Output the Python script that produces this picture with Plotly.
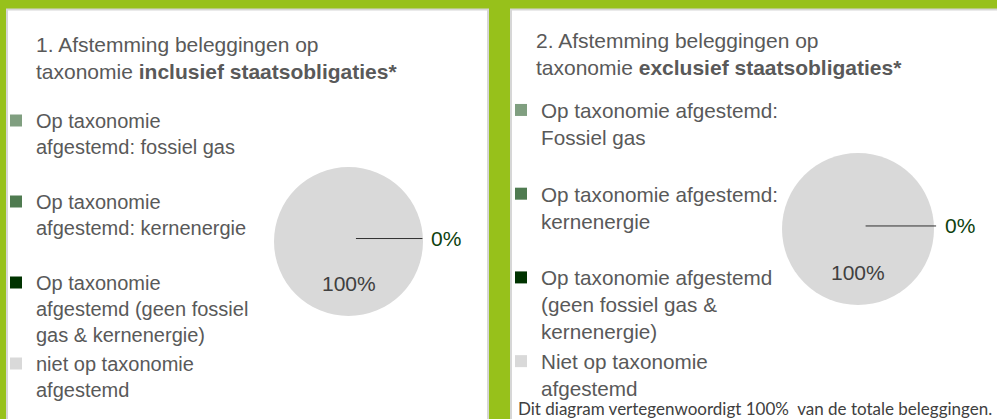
import plotly.graph_objects as go

W, H = 997, 419

# ---- data ----
labels_incl = [
    "Op taxonomie<br>afgestemd: fossiel gas<br> ",
    "Op taxonomie<br>afgestemd: kernenergie<br> ",
    "Op taxonomie<br>afgestemd (geen fossiel<br>gas &amp; kernenergie)",
    "niet op taxonomie<br>afgestemd",
]
labels_excl = [
    "Op taxonomie afgestemd:<br>Fossiel gas<br> ",
    "Op taxonomie afgestemd:<br>kernenergie<br> ",
    "Op taxonomie afgestemd<br>(geen fossiel gas &amp;<br>kernenergie)",
    "Niet op taxonomie<br>afgestemd",
]
values_incl = [0, 0, 0, 100]
values_excl = [0, 0, 0, 100]
slice_colors = ["#809F80", "#4F7B50", "#003300", "#D9D9D9"]
title_incl = "1. Afstemming beleggingen op<br>taxonomie <b>inclusief staatsobligaties*</b>"
title_excl = "2. Afstemming beleggingen op<br>taxonomie <b>exclusief staatsobligaties*</b>"
footer = "Dit diagram vertegenwoordigt 100%\u00a0 van de totale beleggingen."
small_label_index = 2  # category whose 0% label is drawn outside

GREEN = "#97C11B"
BORDER = "#D6D6D6"
TEXT = "#595959"
FONT = "Liberation Sans, Arial, sans-serif"


def px(x):
    return x / W


def py(y):
    return 1 - y / H


panels = [
    dict(labels=labels_incl, values=values_incl, title=title_incl,
         cx=348.5, cy=241.5, r=74.5, legend="legend",
         lx=-4, ly=101, lfont=20, tx=34, ty=57.5, ax=90,
         box=(7, 488)),
    dict(labels=labels_excl, values=values_excl, title=title_excl,
         cx=858, cy=229, r=76, legend="legend2",
         lx=501, ly=90, lfont=20.7, tx=534, ty=54, ax=94,
         box=(511, 1005)),
]

fig = go.Figure()
shapes = []
annotations = []
layout_legends = {}

for p in panels:
    x0, x1 = p["box"]
    shapes.append(dict(type="rect", xref="paper", yref="paper",
                       x0=px(x0), x1=px(x1), y0=py(430), y1=py(9.5),
                       fillcolor="white", line=dict(color=BORDER, width=2),
                       layer="below"))
    cx, cy, r = p["cx"], p["cy"], p["r"]
    fig.add_trace(go.Pie(
        labels=p["labels"], values=p["values"], sort=False,
        direction="clockwise", rotation=90,
        marker=dict(colors=slice_colors, line=dict(width=0)),
        textinfo="none", hoverinfo="label+percent",
        domain=dict(x=[px(cx - r), px(cx + r)], y=[py(cy + r), py(cy - r)]),
        legend=p["legend"], showlegend=True,
    ))
    total = sum(p["values"])
    big = max(range(len(p["values"])), key=lambda i: p["values"][i])
    annotations.append(dict(
        x=px(cx), y=py(cy + 0.57 * r), xref="paper", yref="paper",
        xanchor="center", yanchor="middle",
        text=f"{p['values'][big] / total * 100:.0f}%", showarrow=False,
        font=dict(family=FONT, size=21, color="#404040")))
    annotations.append(dict(
        x=px(cx + 0.1 * r), y=py(cy - 0.04 * r), xref="paper", yref="paper",
        text=f"{p['values'][small_label_index] / total * 100:.0f}%",
        showarrow=True, arrowhead=0, arrowwidth=1, arrowcolor="#303030",
        ax=p["ax"], ay=0, standoff=0, borderpad=8,
        font=dict(family=FONT, size=21, color="#0E3F0E")))
    annotations.append(dict(
        x=px(p["tx"]), y=py(p["ty"]), xref="paper", yref="paper",
        xanchor="left", yanchor="middle", align="left", showarrow=False,
        text=p["title"], font=dict(family=FONT, size=21, color=TEXT)))
    layout_legends[p["legend"]] = dict(
        x=px(p["lx"]), y=py(p["ly"]), xanchor="left", yanchor="top",
        xref="paper", yref="paper",
        bgcolor="rgba(0,0,0,0)", borderwidth=0, valign="top",
        traceorder="normal",
        font=dict(family=FONT, size=p["lfont"], color=TEXT))

annotations.append(dict(
    x=px(516), y=py(408), xref="paper", yref="paper", xanchor="left",
    yanchor="middle", showarrow=False, text=footer,
    font=dict(family="Lato, Carlito, Calibri, sans-serif", size=17,
              color="#404040")))

fig.update_layout(
    width=W, height=H,
    margin=dict(l=0, r=0, t=0, b=0, autoexpand=False),
    paper_bgcolor=GREEN, plot_bgcolor=GREEN,
    shapes=shapes, annotations=annotations,
    **layout_legends,
)

fig.write_html(
    "out.html",
    config={"displayModeBar": False},
    post_script="document.body.style.margin='0';"
                "document.body.style.background='" + GREEN + "';",
)
